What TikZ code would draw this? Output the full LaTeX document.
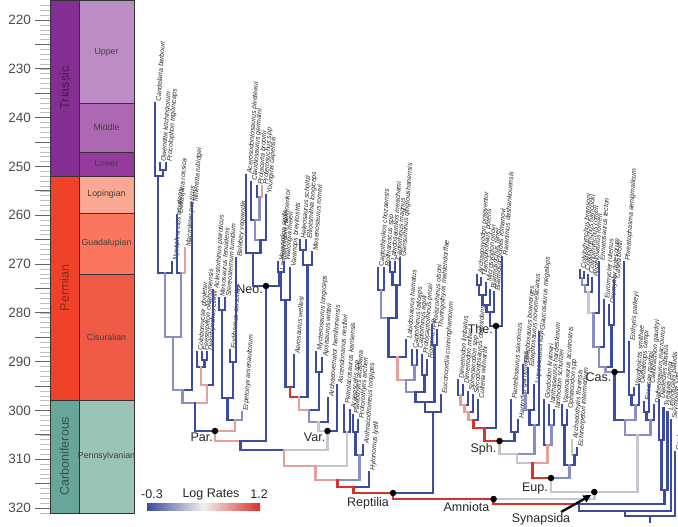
\documentclass[tikz,border=0pt]{standalone}
\usepackage{fontspec}
\setmainfont{Liberation Sans}
\usetikzlibrary{arrows.meta}
\definecolor{cblue}{RGB}{60,76,160}
\definecolor{clav}{RGB}{138,142,198}
\definecolor{cgray}{RGB}{198,198,208}
\definecolor{cpink}{RGB}{230,160,154}
\definecolor{cred}{RGB}{216,50,44}
\definecolor{triP}{RGB}{132,46,148}
\definecolor{triU}{RGB}{188,140,196}
\definecolor{triM}{RGB}{172,104,178}
\definecolor{triL}{RGB}{148,58,156}
\definecolor{perP}{RGB}{240,66,40}
\definecolor{perL}{RGB}{250,168,148}
\definecolor{perG}{RGB}{250,118,94}
\definecolor{perC}{RGB}{238,90,70}
\definecolor{carP}{RGB}{104,166,154}
\definecolor{carE}{RGB}{154,196,182}
\newcommand\labfont{\itshape\fontsize{6.8}{7}\selectfont}
\tikzset{
  branch/.style={line width=2.6pt, line cap=rect},
  lab/.style={font=\labfont, rotate=86, anchor=north west, inner sep=0pt, text=black!85},
  dot/.style={circle, fill=black, inner sep=0pt, minimum size=6.5pt},
  nlab/.style={font=\fontsize{12.5}{13}\selectfont, inner sep=0pt, text=black!85},
  tsbox/.style={draw=black!80, line width=0.6pt},
  perlab/.style={font=\fontsize{12.5}{13}\selectfont, rotate=90, inner sep=0pt},
  eplab/.style={font=\fontsize{8.8}{9}\selectfont, inner sep=0pt, text=black!75},
  agelab/.style={font=\fontsize{13.5}{14}\selectfont, anchor=east, inner sep=0pt, text=black!70},
}
\newcommand\TIP[3]{\coordinate (#1) at (#2);\node[lab] (#1-l) at ([shift={(0.6pt,1.5pt)}]#1) {#3};}
\newcommand\ND[2]{\coordinate (#1) at (#2);}
\newcommand\BR[3][cblue]{\draw[branch,draw=#1] (#3) |- (#2);}
\begin{document}
\begin{tikzpicture}[x=1pt,y=-1pt]
\useasboundingbox (0,0) rectangle (678,527);
% ---------------- time scale ----------------
\filldraw[tsbox,fill=triP] (50,0) rectangle (79,176);
\filldraw[tsbox,fill=perP] (50,176) rectangle (79,400);
\filldraw[tsbox,fill=carP] (50,400) rectangle (79,513);
\filldraw[tsbox,fill=triU] (79,0) rectangle (134,103);
\filldraw[tsbox,fill=triM] (79,103) rectangle (134,152);
\filldraw[tsbox,fill=triL] (79,152) rectangle (134,176);
\filldraw[tsbox,fill=perL] (79,176) rectangle (134,213);
\filldraw[tsbox,fill=perG] (79,213) rectangle (134,274);
\filldraw[tsbox,fill=perC] (79,274) rectangle (134,400);
\filldraw[tsbox,fill=carE] (79,400) rectangle (134,513);
\node[perlab,text=triP!55!black] (ptri) at (64.5,88) {Triassic};
\node[perlab,text=perP!60!black] (pper) at (64.5,288) {Permian};
\node[perlab,text=carP!50!black] (pcar) at (64.5,456) {Carboniferous};
\node[eplab] (eup1) at (106.5,52) {Upper};
\node[eplab] (emid) at (106.5,127) {Middle};
\node[eplab] (elow) at (106.5,164) {Lower};
\node[eplab] (elop) at (106.5,194.5) {Lopingian};
\node[eplab] (egua) at (106.5,243) {Guadalupian};
\node[eplab] (ecis) at (106.5,337) {Cisuralian};
\node[eplab] (epen) at (106.5,456) {Pennsylvanian};
\foreach \a in {217,...,321}{
  \pgfmathsetmacro\yy{20+(\a-220)*4.88}
  \draw[black!25,line width=0.5pt] (40,\yy) -- (50,\yy);
}
\foreach \a in {220,225,...,320}{
  \pgfmathsetmacro\yy{20+(\a-220)*4.88}
  \draw[black!60,line width=0.8pt] (35,\yy) -- (50,\yy);
}
\foreach \a in {220,230,...,320}{
  \pgfmathsetmacro\yy{20+(\a-220)*4.88}
  \node[agelab] at (31,\yy) {\a};
}
% ---------------- Parareptilia ----------------
\TIP{cand}{155,103}{Candelaria barbouri}
\TIP{owen}{160,163}{Owenetta kitchingorum}
\TIP{proc}{166,163}{Procolophon trigoniceps}
\TIP{nyct}{172,262}{Nyctiphruretus acudens}
\TIP{delt}{177,215}{Deltavjatia rossica}
\TIP{macr}{185,248}{Macroleter poezicus}
\TIP{mill}{192,203}{Milleretta rubidgei}
\TIP{colo}{197,352}{Colobomycter pholeter}
\TIP{fees}{202,352}{Feeserpeton oklahomensis}
\TIP{delo}{207,352}{Delorhynchus cifellii}
\TIP{acle}{213,290}{Acleistorhinus pteroticus}
\TIP{meso}{219,298}{Mesosaurus tenuidens}
\TIP{ster}{225,298}{Stereosternum tumidum}
\TIP{eudi}{230,350}{Eudibamus cursoris}
\TIP{bele}{236,258}{Belebey vegrandis}
\TIP{erpe}{242,412}{Erpetonyx arsenaultorum}
\ND{a2}{163,170} \ND{a1}{158,176} \ND{pb}{165,273} \ND{pd}{181,273}
\ND{pc}{173,337} \ND{pe}{182.5,390} \ND{f2}{204.5,360} \ND{f1}{201,367}
\ND{pg}{207,385} \ND{ph}{195,403} \ND{pm}{222,310} \ND{pbo}{233,362}
\ND{po}{227.5,398} \ND{pq}{235,420} \ND{par}{215,431}
\BR{a2}{owen} \BR{a2}{proc} \BR{a1}{cand} \BR{a1}{a2}
\BR{pb}{a1} \BR{pb}{nyct} \BR{pd}{delt} \BR[cpink]{pd}{macr}
\BR[clav]{pc}{pb} \BR[clav]{pc}{pd} \BR[clav]{pe}{pc} \BR{pe}{mill}
\BR{f2}{fees} \BR{f2}{delo} \BR{f1}{colo} \BR{f1}{f2}
\BR[cpink]{pg}{f1} \BR{pg}{acle} \BR[clav]{ph}{pe} \BR[cpink]{ph}{pg}
\BR{pm}{meso} \BR{pm}{ster} \BR{pbo}{eudi} \BR{pbo}{bele}
\BR{po}{pm} \BR{po}{pbo} \BR{pq}{po} \BR[clav]{pq}{erpe}
\BR{par}{ph} \BR[cpink]{par}{pq}
% ---------------- Neodiapsida ----------------
\TIP{acer}{246,175}{Acerosodontosaurus piveteaui}
\TIP{claud}{251,182}{Claudiosaurus germaini}
\TIP{prol}{257,186}{Prolacerta broomi}
\TIP{prot}{262,186}{Proterosuchus spp}
\TIP{youn}{266,195}{Youngina capensis}
\TIP{lant}{279,272}{Lanthanolania ivakhnenkoi}
\ND{npp}{259.5,197} \ND{ncl}{255,220} \ND{ncy}{260.5,240} \ND{nac}{253,253} \ND{neo}{266,286}
\BR{npp}{prol} \BR[cpink]{npp}{prot} \BR{ncl}{claud} \BR[clav]{ncl}{npp}
\BR[clav]{ncy}{ncl} \BR{ncy}{youn} \BR{nac}{acer} \BR{nac}{ncy}
\BR{neo}{nac} \BR{neo}{lant}
% ---------------- Varanopidae ----------------
\TIP{vara}{278,262}{Varanodon agilis}
\TIP{wato}{284,262}{Watongia meieri}
\TIP{vars}{290,268}{Varanops brevirostris}
\TIP{aero}{294,355}{Aerosaurus wellesi}
\TIP{hele}{300,240}{Heleosaurus scholtzi}
\TIP{elli}{306,240}{Elliotsmithia longiceps}
\TIP{mese}{312,252}{Mesenosaurus romeri}
\TIP{myct}{316,352}{Mycterosaurus longiceps}
\TIP{apsi}{322,358}{Apsisaurus witteri}
\TIP{arch}{328,398}{Archaeovenator hamiltonensis}
\TIP{asce}{337,385}{Ascendonanus nestleri}
\ND{vw}{281,272} \ND{vv}{285.5,300} \ND{va1}{290,387} \ND{he}{303,250}
\ND{hm}{307.5,265} \ND{va2}{299,397} \ND{ma}{319,372} \ND{va3}{309,410}
\ND{va4}{318.5,422} \ND{var}{327.5,431}
\BR{vw}{vara} \BR{vw}{wato} \BR{vv}{vw} \BR{vv}{vars}
\BR{va1}{vv} \BR{va1}{aero} \BR{he}{hele} \BR{he}{elli}
\BR{hm}{he} \BR{hm}{mese} \BR[cred]{va2}{va1} \BR{va2}{hm}
\BR{ma}{myct} \BR{ma}{apsi} \BR[cpink]{va3}{va2} \BR{va3}{ma}
\BR[clav]{va4}{va3} \BR{va4}{arch} \BR[cgray]{var}{va4} \BR{var}{asce}
% ---------------- basal reptiles ----------------
\TIP{petr}{344,405}{Petrolacosaurus kansensis}
\TIP{arae}{350,410}{Araeoscelis spp}
\TIP{pale}{353,415}{Paleothyris acadiana}
\TIP{prth}{358,420}{Protorothyris archeri}
\TIP{anth}{363,445}{Anthracodromeus longipes}
\TIP{hylo}{369,472}{Hylonomus lyelli}
\ND{rr}{240.5,441} \ND{ss}{284,450} \ND{xa}{347,432} \ND{tt}{315.5,466}
\ND{pp2}{355.5,432} \ND{yy}{359.25,455} \ND{uu}{337.4,480} \ND{vv2}{353.2,487}
\BR[cpink]{rr}{par} \BR{rr}{neo} \BR{ss}{rr} \BR[cgray]{ss}{var}
\BR{xa}{petr} \BR{xa}{arae} \BR[cpink]{tt}{ss} \BR[cgray]{tt}{xa}
\BR{pp2}{pale} \BR{pp2}{prth} \BR{yy}{pp2} \BR{yy}{anth}
\BR[cpink]{uu}{tt} \BR[clav]{uu}{yy} \BR[cred]{vv2}{uu} \BR{vv2}{hylo}
% ---------------- Eureptilia ----------------
\TIP{cchz}{378,268}{Captorhinikos chozaensis}
\TIP{roth}{384,268}{Rothianiscus spp}
\TIP{labm}{390,262}{Labidosaurikos meachami}
\TIP{cmag}{395,262}{Captorhinus magnus}
\TIP{gans}{400,258}{Gansurhinus qingtoushanensis}
\TIP{labh}{406,340}{Labidosaurus hamatus}
\TIP{clat}{412,350}{Captorhinus laticeps}
\TIP{cagu}{417,350}{Captorhinus aguti}
\TIP{prca}{422,355}{Protocaptorhinus pricei}
\TIP{rome}{427,360}{Romeria spp}
\TIP{reis}{432,325}{Reiszorhinus olsoni}
\TIP{thur}{437,330}{Thuringothyris mahlendorffae}
\TIP{euco}{441,395}{Euconcordia cunninghamorum}
\ND{k1}{381,290} \ND{k2}{392.5,272} \ND{k3}{396.25,285} \ND{k4}{388.6,318}
\ND{k5}{397.3,357} \ND{ca1}{414.5,365} \ND{k6}{405.9,380} \ND{ca2}{424.5,375}
\ND{k7}{415.2,392} \ND{rt}{434.5,345} \ND{k8}{424.9,402} \ND{eu}{433,412}
\BR{k1}{cchz} \BR{k1}{roth} \BR{k2}{labm} \BR{k2}{cmag} \BR{k3}{k2} \BR{k3}{gans}
\BR[clav]{k4}{k1} \BR{k4}{k3} \BR{k5}{k4} \BR{k5}{labh}
\BR{ca1}{clat} \BR{ca1}{cagu} \BR[cpink]{k6}{k5} \BR[clav]{k6}{ca1}
\BR{ca2}{prca} \BR{ca2}{rome} \BR[clav]{k7}{k6} \BR{k7}{ca2}
\BR{rt}{reis} \BR{rt}{thur} \BR{k8}{k7} \BR{k8}{rt}
\BR{eu}{k8} \BR{eu}{euco}
\ND{rep}{393,493}
\BR[cred]{rep}{vv2} \BR{rep}{eu}
% ---------------- Synapsida: sphenacodontians ----------------
\TIP{dlim}{458,380}{Dimetrodon limbatus}
\TIP{dmil}{463,385}{Dimetrodon milleri}
\TIP{sphe}{468,392}{Sphenacodon spp}
\TIP{seco}{473,395}{Secodontosaurus obtusidens}
\TIP{cutl}{478,400}{Cutleria wilmarthi}
\TIP{arsy}{477,275}{Archaeosyodon praeventor}
\TIP{tita}{481,278}{Titanophoneus potens}
\TIP{micr}{486,283}{Microsyodon orlovi}
\TIP{biar}{490,290}{Biarmosuchus tener}
\TIP{bia2}{494,292}{Biarmosuchoides romanovi}
\TIP{rara}{502,257}{Raranimus dashankouensis}
\TIP{pant}{511,400}{Pantelosaurus saxonicus}
\TIP{hapt}{518,420}{Haptodus garnettensis}
\ND{sd1}{460.5,395} \ND{sd2}{464.25,405} \ND{sd3}{468.6,412} \ND{sd4}{473.3,420}
\ND{th1}{479,285} \ND{th2}{482.5,295} \ND{th3}{486.25,305} \ND{th4}{490.1,312}
\ND{the}{496,326} \ND{sp3}{484.6,428} \ND{hp}{514.5,432} \ND{sph}{499.5,441}
\BR{sd1}{dlim} \BR{sd1}{dmil} \BR[cpink]{sd2}{sd1} \BR{sd2}{sphe}
\BR[cpink]{sd3}{sd2} \BR{sd3}{seco} \BR[cpink]{sd4}{sd3} \BR{sd4}{cutl}
\BR{th1}{arsy} \BR{th1}{tita} \BR{th2}{th1} \BR{th2}{micr}
\BR{th3}{th2} \BR{th3}{biar} \BR{th4}{th3} \BR{th4}{bia2}
\BR{the}{th4} \BR{the}{rara}
\BR[cred]{sp3}{sd4} \BR{sp3}{the}
\BR{hp}{pant} \BR{hp}{hapt}
\BR[cred]{sph}{sp3} \BR{sph}{hp}
% edaphosaurids, ianthasaurids, ophiacodontids
\TIP{edbo}{523,365}{Edaphosaurus boanerges}
\TIP{edno}{528,368}{Edaphosaurus novomexicanus}
\TIP{lupe}{534,385}{Lupeosaurus kayi}
\TIP{glau}{539,332}{Glaucosaurus megalops}
\TIP{gord}{544,400}{Gordodon kraineri}
\TIP{iasa}{549,405}{Ianthasaurus hardestiorum}
\TIP{iado}{554,410}{Ianthodon schultzei}
\TIP{vrno}{562,405}{Varanosaurus acutirostris}
\TIP{ophi}{567,410}{Ophiacodon spp}
\TIP{arth}{572,440}{Archaeothyris florensis}
\TIP{echi}{577,448}{Echinerpeton intermedium}
\ND{ed1}{525.5,393} \ND{ed2}{529.75,410} \ND{ez}{534.4,425} \ND{e2}{517,454}
\ND{ia1}{551.5,425} \ND{iw}{547.75,445} \ND{e1}{532.4,463}
\ND{op1}{564.5,425} \ND{op2}{574.5,455} \ND{oph}{569.5,465} \ND{eup}{551,478}
\BR{ed1}{edbo} \BR{ed1}{edno} \BR[clav]{ed2}{ed1} \BR{ed2}{lupe}
\BR{ez}{ed2} \BR{ez}{glau} \BR[cgray]{e2}{sph} \BR[clav]{e2}{ez}
\BR{ia1}{iasa} \BR{ia1}{iado} \BR{iw}{gord} \BR[clav]{iw}{ia1}
\BR[cgray]{e1}{e2} \BR[cpink]{e1}{iw}
\BR{op1}{vrno} \BR{op1}{ophi} \BR[cgray]{op2}{arth} \BR{op2}{echi}
\BR{oph}{op1} \BR{oph}{op2}
\BR[cred]{eup}{e1} \BR[clav]{eup}{oph}
% ---------------- Caseasauria ----------------
\TIP{cbra}{580,270}{Cotylorhynchus bransoni}
\TIP{chan}{584,272}{Cotylorhynchus hancocki}
\TIP{crom}{588,275}{Cotylorhynchus romeri}
\TIP{angr}{592,278}{Angelosaurus romeri}
\TIP{enna}{599,262}{Ennatosaurus tecton}
\TIP{euro}{604,300}{Euromycter rutenus}
\TIP{orom}{609,305}{Oromycter dolesorum}
\TIP{case}{614,280}{Casea broilii}
\TIP{phre}{624,262}{Phreatophasma aenigmaticum}
\TIP{eoth}{629,342}{Eothyris parkeyi}
\TIP{vaug}{634,388}{Vaughnictis smithae}
\TIP{oeda}{639,385}{Oedaleops campi}
\TIP{eoca}{644,402}{Eocasea martini}
\TIP{call}{649,385}{Callibrachion gaudryi}
\TIP{dath}{654,405}{Datheosaurus macrourus}
\ND{cb}{582,278} \ND{cc}{585,285} \ND{cd}{588.5,292} \ND{ce}{593.75,313}
\ND{cf}{598.9,347} \ND{cg}{611.5,325} \ND{ch}{605.2,367} \ND{cas}{614.6,372}
\ND{ey1}{631.5,395} \ND{ey2}{635.25,405} \ND{cs1}{624.9,420}
\ND{ec}{646.5,412} \ND{ec2}{650.25,420} \ND{csa}{637.6,435}
\BR{cb}{cbra} \BR{cb}{chan} \BR[clav]{cc}{cb} \BR{cc}{crom}
\BR[clav]{cd}{cc} \BR{cd}{angr} \BR[cgray]{ce}{cd} \BR{ce}{enna}
\BR[clav]{cf}{ce} \BR{cf}{euro} \BR{cg}{orom} \BR{cg}{case}
\BR[clav]{ch}{cf} \BR{ch}{cg} \BR[clav]{cas}{ch} \BR{cas}{phre}
\BR{ey1}{eoth} \BR{ey1}{vaug} \BR{ey2}{ey1} \BR{ey2}{oeda}
\BR{cs1}{cas} \BR[clav]{cs1}{ey2}
\BR{ec}{eoca} \BR{ec}{call} \BR{ec2}{ec} \BR{ec2}{dath}
\BR[clav]{csa}{cs1} \BR[clav]{csa}{ec2}
\ND{syn}{594.3,492} \ND{amn}{493.6,499}
\BR[cgray]{syn}{eup} \BR[cgray]{syn}{csa}
\BR[cred]{amn}{rep} \BR[cgray]{amn}{syn}
% ---------------- outgroups ----------------
\TIP{diad}{659,400}{Diadectes absitus}
\TIP{tsea}{663.5,408}{Tseajaia campi}
\TIP{limn}{667.5,412}{Limnoscelis paludis}
\TIP{seym}{671,420}{Seymouria spp}
\TIP{geph}{675,452}{Gephyrostegus bohemicus}
\ND{d1}{661.25,440} \ND{d2}{664.4,490} \ND{ad}{579,504} \ND{ads}{625,511}
\ND{root}{650,516} \ND{rootb}{650,522}
\BR{d1}{diad} \BR{d1}{tsea} \BR{d2}{d1} \BR{d2}{limn}
\BR[cred]{ad}{amn} \BR{ad}{d2} \BR{ads}{ad} \BR{ads}{seym}
\BR{root}{ads} \BR{root}{geph} \BR{rootb}{root}
% ---------------- node dots and labels ----------------
\foreach \n in {par,neo,var,rep,amn,syn,eup,sph,the,cas}{
  \node[dot] (\n-d) at (\n) {};
}
\node[nlab,anchor=north east] (par-t) at ([shift={(-2pt,-2pt)}]par) {Par.};
\node[nlab,anchor=north east] (var-t) at ([shift={(-2pt,-2pt)}]var) {Var.};
\node[nlab,anchor=east] (neo-t) at ([shift={(-3pt,-3pt)}]neo) {Neo.};
\node[nlab,anchor=east] (the-t) at ([shift={(-3pt,-3pt)}]the) {The.};
\node[nlab,anchor=east] (cas-t) at ([shift={(-3pt,-5pt)}]cas) {Cas.};
\node[nlab,anchor=north east] (sph-t) at ([shift={(-3pt,-2pt)}]sph) {Sph.};
\node[nlab,anchor=north east] (eup-t) at ([shift={(-3pt,-5pt)}]eup) {Eup.};
\node[nlab,anchor=north east] (rep-t) at ([shift={(-4pt,-4pt)}]rep) {Reptilia};
\node[nlab,anchor=north east] (amn-t) at ([shift={(-4pt,-3pt)}]amn) {Amniota};
\node[nlab] (syn-t) at (541,519) {Synapsida};
\coordinate (arrt) at (561,512);
\draw[line width=2.3pt,-{Triangle[length=8pt,width=7.5pt]}] (arrt) -- ([shift={(-3pt,-3pt)}]syn);
% ---------------- legend ----------------
\node[nlab,anchor=west] (lg1) at (141,494) {-0.3};
\node[nlab] (lg2) at (211,494) {Log Rates};
\node[nlab,anchor=east] (lg3) at (268,494) {1.2};
\shade[left color=cblue, right color=cred, middle color=black!6] (147,503) rectangle (260,510);
\end{tikzpicture}
\end{document}
